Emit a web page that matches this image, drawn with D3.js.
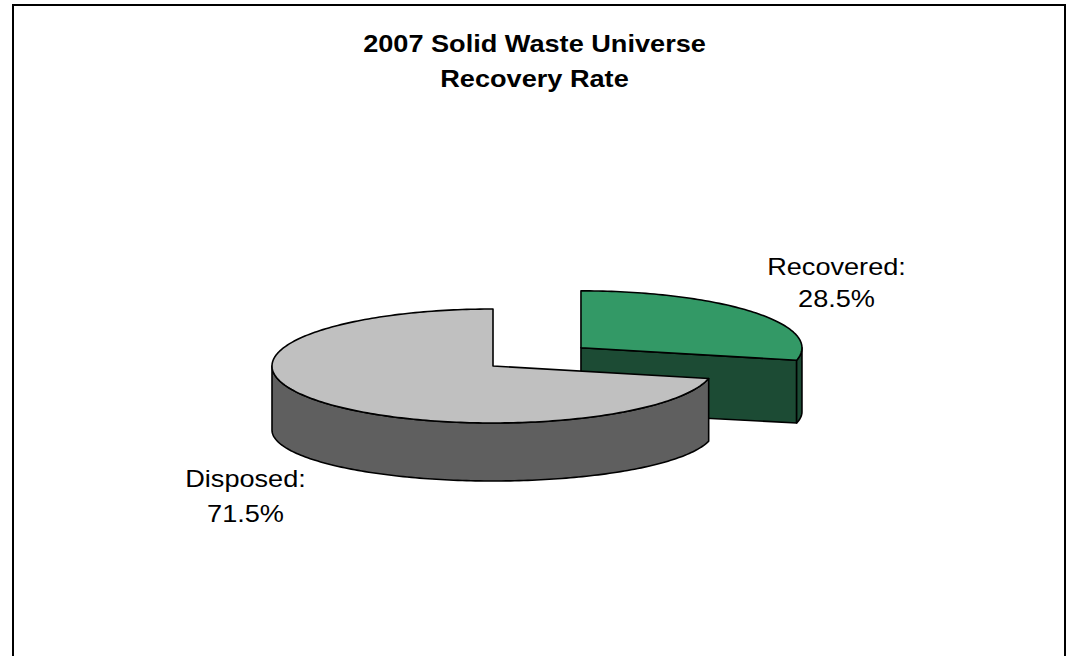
<!DOCTYPE html>
<html>
<head>
<meta charset="utf-8">
<script src="https://cdn.jsdelivr.net/npm/d3@7"></script>
<style>
  html, body { margin: 0; padding: 0; background: #ffffff; }
  svg { display: block; }
  text { font-family: "Liberation Sans", Arial, sans-serif; fill: #000; }
</style>
</head>
<body>
<svg id="chart" width="1070" height="656"></svg>
<script>
// ---- data ----
const categories = ["Recovered", "Disposed"];
const values = [28.5, 71.5];
const valueLabels = ["28.5%", "71.5%"];
const titleLines = ["2007 Solid Waste Universe", "Recovery Rate"];
const topColors = ["#339966", "#c0c0c0"];
const sideColors = ["#1c4b34", "#5f5f5f"];
const explodeFrac = [0.51, 0];

// ---- layout ----
const W = 1070, H = 656;
const svg = d3.select("#chart");
const cx = 493, cy = 366;           // pie centre (top face)
const rx = 221, ryTop = 57, ryBot = 51, depth = 64;
const hScale = 1.18;                // horizontal stretch of text in the reference

svg.append("rect").attr("x", 13).attr("y", 5).attr("width", 1052).attr("height", 720)
  .attr("fill", "#fff").attr("stroke", "#000").attr("stroke-width", 2);

// title
titleLines.forEach((t, i) => {
  svg.append("g").attr("transform", `translate(534.5,${52 + i * 35}) scale(${hScale},1)`)
    .append("text").attr("text-anchor", "middle").attr("font-size", 23)
    .attr("font-weight", "bold").text(t);
});

const pie = d3.pie().sort(null).startAngle(0).endAngle(2 * Math.PI).value(d => d);
const arcs = pie(values);

function pt(c, a, level) {
  const ry = level ? ryBot : ryTop;
  return [c[0] + rx * Math.sin(a), c[1] + level * depth - ry * Math.cos(a)];
}
function arcPts(c, a0, a1, level) {
  const n = Math.max(2, Math.ceil(Math.abs(a1 - a0) / 0.02));
  const pts = [];
  for (let i = 0; i <= n; i++) pts.push(pt(c, a0 + (a1 - a0) * i / n, level));
  return pts;
}
const line = d3.line();

function drawSlice(d, i) {
  const mid = (d.startAngle + d.endAngle) / 2;
  const e = explodeFrac[i];
  const c = [cx + e * rx * Math.sin(mid), cy - e * ryTop * Math.cos(mid)];
  const cb = [c[0], c[1] + depth];
  const g = svg.append("g").attr("class", "slice-" + categories[i]);
  const stroke = { "stroke": "#000", "stroke-width": 1.6, "stroke-linejoin": "round" };
  const apply = (sel) => { Object.entries(stroke).forEach(([k, v]) => sel.attr(k, v)); return sel; };

  // cut faces
  [[d.startAngle, -1], [d.endAngle, 1]].forEach(([a, s]) => {
    const normal = a + s * Math.PI / 2;
    if (Math.cos(normal) < -0.01) {
      const p = [c, pt(c, a, 0), pt(c, a, 1), cb];
      apply(g.append("path").attr("d", line(p) + "Z").attr("fill", sideColors[i]));
    }
  });
  // outer wall (front half: angles between PI/2 and 3PI/2)
  const w0 = Math.max(d.startAngle, Math.PI / 2), w1 = Math.min(d.endAngle, 3 * Math.PI / 2);
  if (w1 > w0) {
    const p = arcPts(c, w0, w1, 0).concat(arcPts(c, w1, w0, 1));
    apply(g.append("path").attr("d", line(p) + "Z").attr("fill", sideColors[i]));
  }
  // top face
  const p = [c].concat(arcPts(c, d.startAngle, d.endAngle, 0));
  apply(g.append("path").attr("d", line(p) + "Z").attr("fill", topColors[i]));
}
// draw back (exploded) slice first
drawSlice(arcs[0], 0);
drawSlice(arcs[1], 1);

// data labels
const labelPos = [[836.5, 275, 307], [245.5, 487, 521.5]];
categories.forEach((cat, i) => {
  const [x, y1, y2] = labelPos[i];
  [[cat + ":", y1], [valueLabels[i], y2]].forEach(([t, y]) => {
    svg.append("g").attr("transform", `translate(${x},${y}) scale(${hScale},1)`)
      .append("text").attr("text-anchor", "middle").attr("font-size", 23).text(t);
  });
});
</script>
</body>
</html>
